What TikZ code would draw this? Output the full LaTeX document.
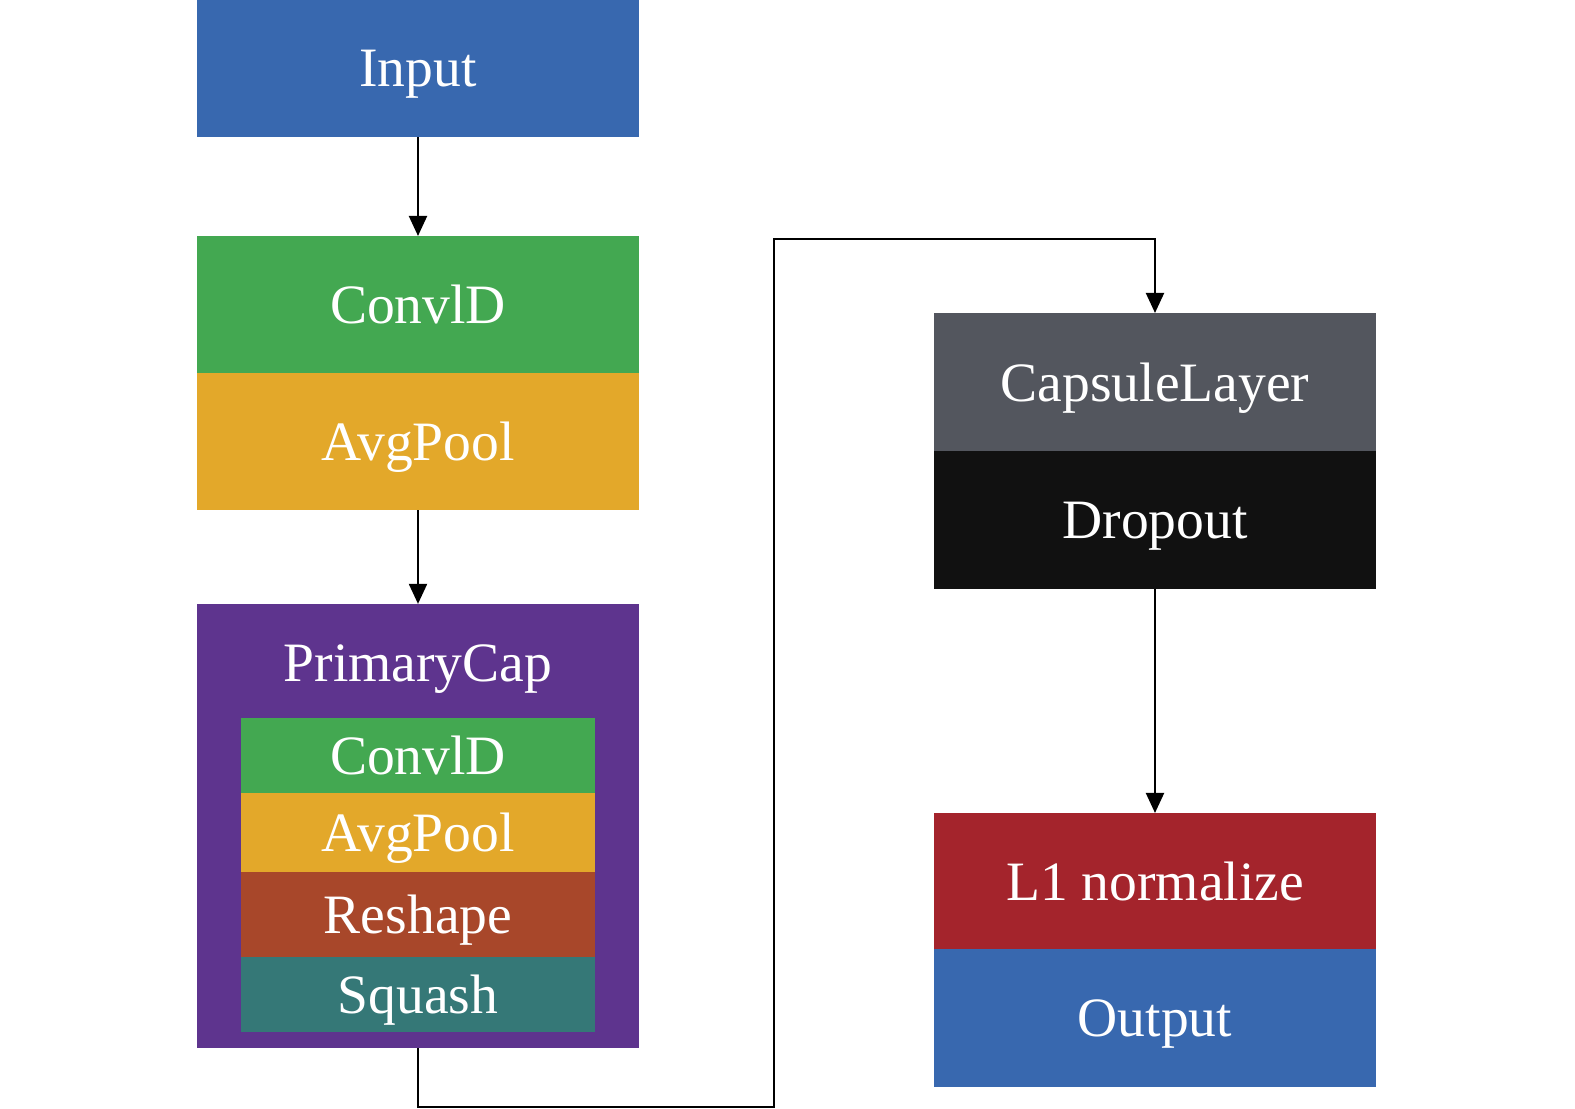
\documentclass[tikz,border=0pt]{standalone}
\usepackage{fontspec}
\setmainfont{Liberation Serif}
\usetikzlibrary{arrows.meta}

\definecolor{inblue}{HTML}{3868AF}
\definecolor{convgreen}{HTML}{43A851}
\definecolor{poolorange}{HTML}{E3A82A}
\definecolor{capspurple}{HTML}{5E348E}
\definecolor{reshapebrown}{HTML}{A8472A}
\definecolor{squashteal}{HTML}{357877}
\definecolor{capsgray}{HTML}{53565E}
\definecolor{dropblack}{HTML}{111111}
\definecolor{normred}{HTML}{A4242C}

\tikzset{
    layer/.style={fill=#1, text=white, minimum width=4.42cm, minimum height=1.37cm,
        inner sep=0pt, outer sep=0pt, text depth=0pt, font=\fontsize{15.8}{19}\selectfont},
    sublayer/.style={layer=#1, minimum width=3.54cm},
}

\begin{document}
\begin{tikzpicture}[x=0.01cm, y=-0.01cm, ->, >={Triangle[length=0.2cm,width=0.18cm]}, line width=0.6pt]
            \useasboundingbox (0,0) rectangle (1575,1109);

            % Left column
            \node[layer=inblue] (Input) at (418,68.5) {Input};
            \node[layer=convgreen] (Conv) at (418,304.5) {ConvlD};
            \node[layer=poolorange] (Pool) at (418,441.5) {AvgPool};

            % PrimaryCap block with its inner layers
            \node[layer=capspurple, minimum height=4.44cm] (Primary) at (418,826) {};
            \node[text=white, text depth=0pt, font=\fontsize{15.8}{19}\selectfont] (PrimaryTitle) at (418,663) {PrimaryCap};
            \node[sublayer=convgreen, minimum height=0.75cm] (PConv) at (418,755.5) {ConvlD};
            \node[sublayer=poolorange, minimum height=0.79cm] (PPool) at (418,832.5) {AvgPool};
            \node[sublayer=reshapebrown, minimum height=0.85cm] (PReshape) at (418,914.5) {Reshape};
            \node[sublayer=squashteal, minimum height=0.75cm] (PSquash) at (418,994.5) {Squash};

            % Right column
            \node[layer=capsgray, minimum height=1.38cm] (Capsule) at (1155,382) {CapsuleLayer};
            \node[layer=dropblack, minimum height=1.38cm] (Dropout) at (1155,520) {Dropout};
            \node[layer=normred, minimum height=1.36cm] (Norm) at (1155,881) {L1 normalize};
            \node[layer=inblue, minimum height=1.38cm] (Output) at (1155,1018) {Output};

            % Connectors
            \coordinate (low) at (418,1107);
            \coordinate (up) at (774,239);
            \draw (Input) -- (Conv);
            \draw (Pool) -- (Primary);
            \draw (Primary) -- (low) -| (up) -| (Capsule);
            \draw (Dropout) -- (Norm);
        \end{tikzpicture}
\end{document}
